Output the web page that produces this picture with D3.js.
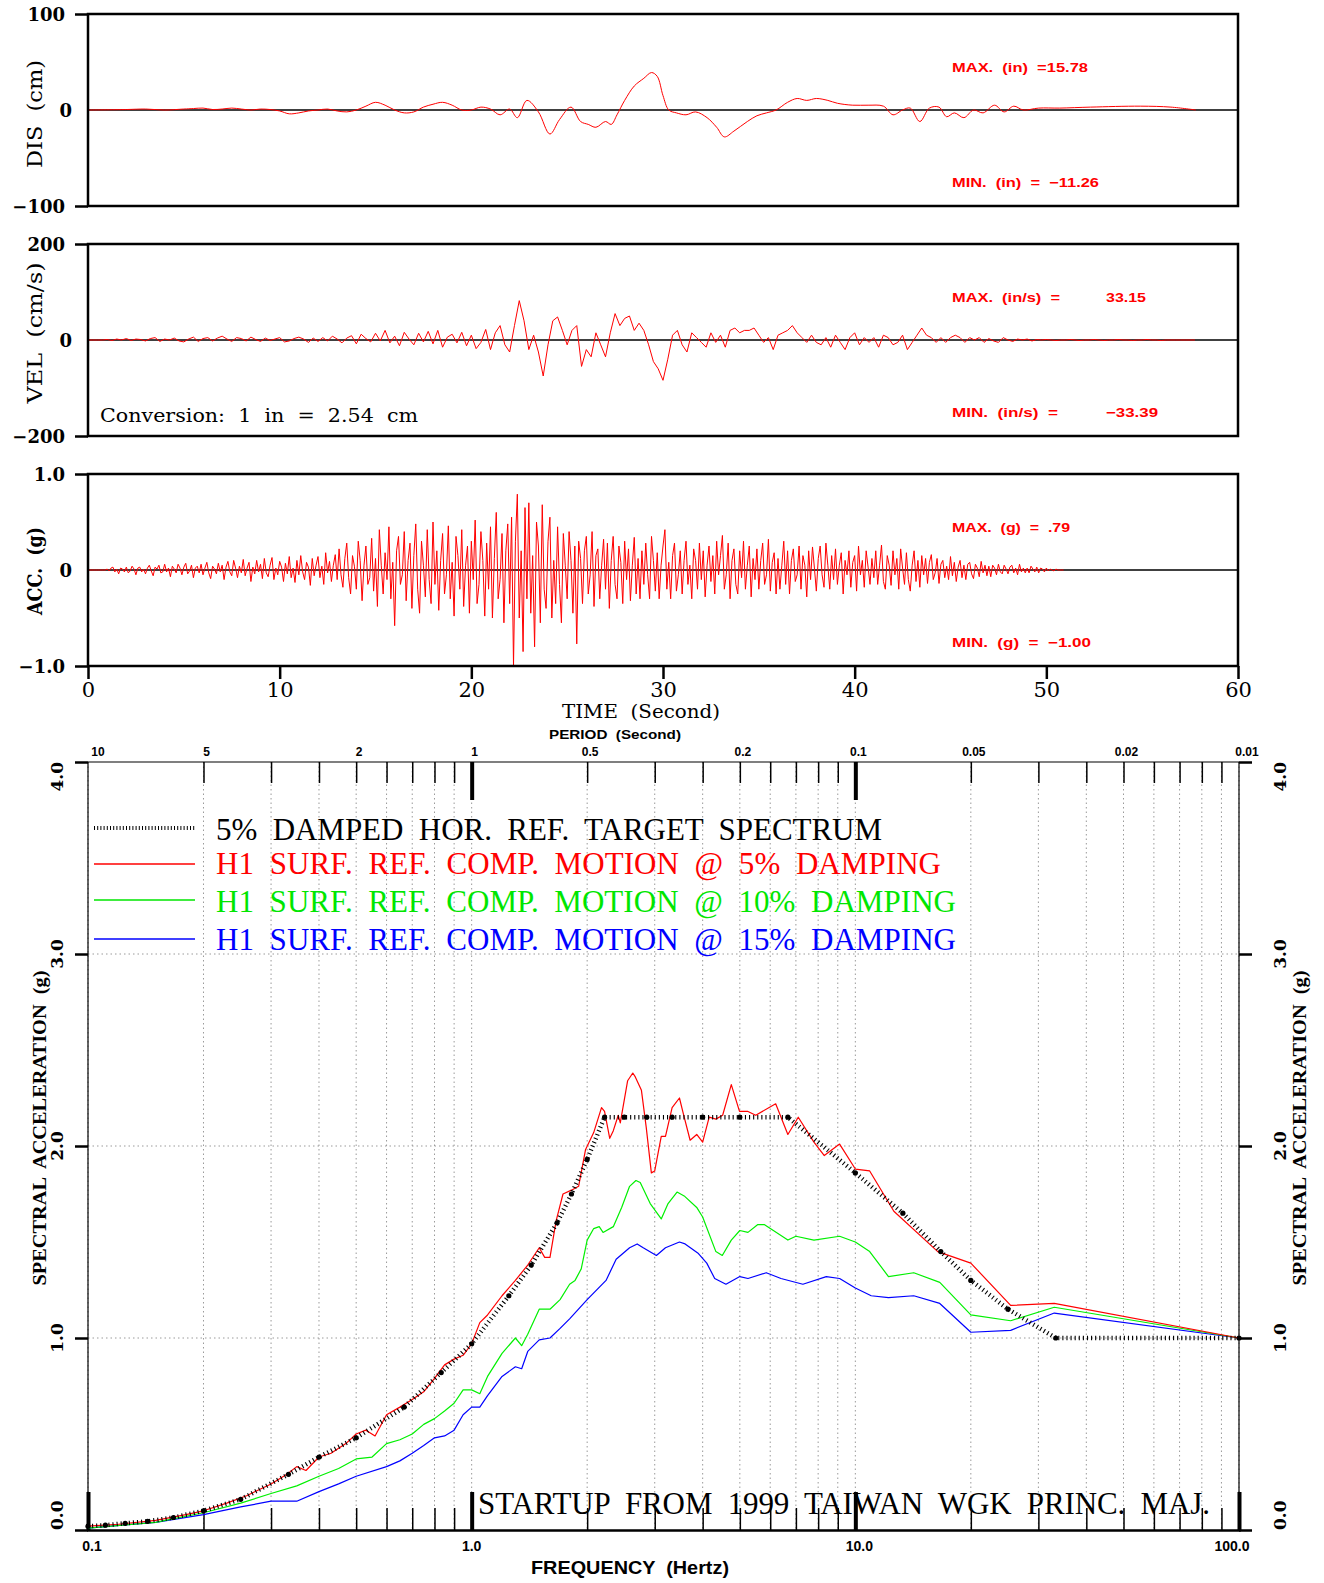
<!DOCTYPE html>
<html><head><meta charset="utf-8">
<script src="https://cdn.jsdelivr.net/npm/d3@7"></script>
<style>body{margin:0;background:#fff}svg{display:block}text{white-space:pre}</style>
</head><body>
<svg id="c" width="1324" height="1583"></svg>
<script>
// ================= DATA =================
const timeTicks=[0,10,20,30,40,50,60];
// displacement (cm): time (s) / value
const dispT=[0,2,3,4,5,5.5,6,6.5,7,7.5,8,8.5,9,9.5,10,10.5,11,11.5,12,12.5,13,13.5,14,14.5,15,15.5,16,16.5,17,17.5,18,18.5,19,19.5,20,20.5,21,21.5,22,22.4,22.9,23.5,24.1,24.6,25.2,25.7,26.1,26.5,27,27.3,27.6,28,28.5,29,29.4,29.7,30,30.3,30.7,31.2,31.7,32.3,32.8,33.2,33.7,34.4,34.9,35.4,35.9,36.5,37,37.5,38,38.6,39.1,39.9,40.7,41.5,42,42.5,42.9,43.4,43.9,44.4,44.8,45.2,45.7,46.2,46.7,47.3,47.8,48.3,48.8,49.6,50.7,52.3,54.9,56.5,57.8];
const dispV=[0,0.5,1,0,1,1.5,2,0.5,1,2,1,0,1,0.5,-1,-4,-3,-1,0,1,-1,-2,0,4,8,5,0,-3,-2,3,6,8,5,0,0,3,1,-5,1,-8,10,-2,-25,-10,3,-12,-15,-18,-12,-15,-5,10,25,33,39,35,15,0,-3,-5,-2,-8,-18,-28,-22,-12,-6,-3,0,8,12,10,12,10,7,5,5,4,-5,0,2,-12,2,3,-7,-3,-8,0,-3,5,-2,4,0,2,2,3,4,3,0];
// velocity (cm/s), sampled every velStep seconds
const velStep=0.25;
const velV=[
0,0,0,0, 1,-1,2,0, 3,-1,2,1, -2,3,5,-3, 2,0,4,-2, -4,2,6,-3, 3,5,-2,4, 8,2,-3,5, 3,-2,6,1, -3,4,-1,2,
5,-4,-2,3, 6,2,-5,4, -3,5,-2,8, 2,-6,4,9, -8,12,3,-4, 14,-2,20,-6, 8,-12,16,2, -10,14,-4,18, -8,20,-15,6, 12,-6,16,-12,
10,-18,-5,22, -20,15,30,-10, -25,30,82,40, -20,10,-25,-75, -10,40,48,20, -10,20,30,-55, -20,-35,15,-10, -35,15,55,30, 45,50,20,35, 20,-10,-45,-60,
-84,-40,10,20, -10,-25,15,5, -5,-15,15,-5, 10,-15,20,25, 15,20,20,25, 10,-5,5,-20, 10,15,20,30, 15,5,-5,10, -5,-10,5,-15, 10,-5,-20,5,
15,-10,5,-5, 5,-15,10,5, -10,-5,10,-20, -5,10,25,10, 5,-5,5,-5, 5,10,5,-5, 5,0,5,-5, 3,-2,-5,5, 0,-3,2,0, 2,-2,1,0,
1,0,-1,0, 0,1,0,-1, 0,0,1,0, -1,0,0,1, 0,0,-1,0, 0,1,0,0, -1,0,0,0, 0,0,0,0];
// acceleration (g), sampled every accStep seconds
const accStep=0.1;
const accV=[
0,0,0,0,0,0,0,0,0,0,
0.01,-0.01,0.02,0.03,-0.02,0.01,-0.04,0.02,0.01,-0.02,
0.03,-0.03,-0.01,0.04,0.01,-0.05,0.02,0.03,-0.02,0.01,
-0.04,0.02,0.05,-0.01,-0.06,0.03,0.01,0.05,-0.03,-0.02,
0.06,-0.02,0.02,-0.07,0.04,0.01,-0.03,0.06,0.02,-0.05,
0.03,0.07,-0.04,-0.01,0.05,-0.08,0.02,0.04,-0.03,0.06,
-0.05,0.02,0.08,-0.03,-0.09,0.04,0.01,-0.04,0.07,-0.02,
0.05,-0.1,0.03,0.09,-0.02,-0.06,0.1,0.02,-0.08,0.04,
-0.03,0.11,-0.06,0.02,0.08,-0.12,0.03,-0.04,0.1,-0.02,
0.06,-0.09,0.12,-0.03,-0.07,0.05,0.13,-0.1,0.02,-0.05,
0.09,0.03,-0.12,0.07,-0.04,0.14,-0.08,0.02,-0.13,0.1,
-0.05,0.15,-0.02,-0.1,0.08,0.03,-0.16,0.12,-0.06,0.05,
0.14,-0.08,0.04,-0.15,0.18,-0.03,0.09,-0.12,0.05,0.16,
-0.1,0.22,-0.05,-0.18,0.12,0.28,-0.08,-0.25,0.15,0.04,
-0.2,0.3,0.1,-0.32,0.05,0.25,-0.15,-0.08,0.33,-0.22,
0.12,-0.38,0.42,0.05,-0.25,0.18,-0.1,0.45,-0.3,0.08,
-0.58,0.2,0.35,-0.15,-0.05,0.4,-0.32,0.1,0.28,-0.4,
0.15,0.48,-0.2,-0.45,0.3,0.05,-0.28,0.42,-0.1,-0.35,
0.5,-0.15,0.2,-0.42,0.1,0.38,-0.25,-0.05,0.46,-0.3,
0.08,-0.48,0.35,0.15,-0.2,0.42,-0.38,0.05,0.25,-0.45,
0.3,-0.1,0.52,-0.35,-0.15,0.4,0.1,-0.48,0.28,-0.2,
0.45,-0.5,0.12,0.6,-0.3,-0.1,0.38,-0.55,0.2,0.48,
-0.35,0.55,-1.0,0.3,0.79,-0.5,0.2,-0.85,0.65,-0.3,
0.7,-0.45,0.15,-0.8,0.5,0.25,-0.55,0.68,-0.2,-0.4,
0.3,0.55,-0.5,0.1,-0.35,0.45,-0.15,-0.55,0.38,0.05,
-0.3,0.4,0.1,-0.45,0.25,-0.77,0.3,0.12,-0.35,0.2,
0.35,-0.25,-0.05,0.4,-0.38,0.15,0.22,-0.3,0.05,0.32,
-0.2,0.28,-0.4,0.1,0.35,-0.15,-0.3,0.25,0.08,-0.35,
0.3,-0.1,0.22,-0.32,0.05,0.34,-0.25,0.12,-0.3,0.2,
-0.15,0.28,-0.05,-0.3,0.35,0.1,-0.22,0.18,-0.3,0.05,
0.25,0.42,-0.2,0.08,-0.3,0.15,0.28,-0.22,-0.05,0.2,
-0.25,0.1,0.3,-0.15,0.05,-0.3,0.22,0.1,-0.2,0.28,
-0.1,0.2,-0.28,0.05,0.25,-0.12,0.15,-0.25,0.3,-0.05,
0.15,0.36,-0.2,-0.05,0.28,-0.3,0.1,0.22,-0.15,-0.25,
0.2,-0.08,0.3,-0.2,0.05,0.25,-0.28,0.12,-0.1,0.22,
-0.2,0.1,0.28,-0.15,-0.05,0.32,-0.22,0.08,0.18,-0.25,
0.12,-0.2,0.05,0.3,-0.15,0.2,-0.25,0.1,0.22,-0.12,
-0.05,0.25,-0.2,0.15,0.05,-0.28,0.2,-0.1,0.24,0.02,
-0.22,0.12,0.25,-0.05,-0.18,0.28,0.05,-0.2,0.15,-0.1,
0.22,-0.15,0.05,0.18,-0.25,0.1,-0.05,0.2,-0.18,0.08,
0.15,-0.22,0.25,-0.05,0.1,-0.18,0.2,0.03,-0.15,0.12,
-0.08,0.2,-0.15,0.05,0.26,-0.12,-0.2,0.15,0.05,-0.16,
0.2,-0.05,0.12,-0.2,0.22,0.02,-0.15,0.18,-0.1,-0.22,
0.05,0.2,-0.12,0.1,-0.18,0.15,-0.05,0.12,-0.14,0.08,
0.16,-0.1,-0.03,0.12,-0.14,0.06,0.1,-0.08,0.04,-0.1,
0.14,-0.06,0.08,-0.12,0.03,0.1,-0.08,0.05,-0.1,0.06,
0.08,-0.04,-0.09,0.06,0.02,-0.07,0.09,-0.03,0.05,-0.06,
0.04,-0.07,0.05,0.02,-0.05,0.06,-0.02,-0.04,0.05,0.01,
-0.04,0.03,0.05,-0.03,0.02,-0.05,0.06,-0.02,0.02,-0.03,
0.02,-0.03,0.04,0.01,-0.02,0.03,-0.03,0.02,0.01,-0.02,
0.02,-0.01,0.01,0,-0.01,0.01,0,0,0,0];

const panelTitles=["DIS  (cm)","VEL  (cm/s)","ACC.  (g)"];
const panelDomains=[[-100,100],[-200,200],[-1,1]];
const panelTickLabels=[["\u2212100","0","100"],["\u2212200","0","200"],["\u22121.0","0","1.0"]];
const maxTexts=["MAX.  (in)  =15.78","MAX.  (in/s)  =","MAX.  (g)  =  .79"];
const minTexts=["MIN.  (in)  =  \u221211.26","MIN.  (in/s)  =","MIN.  (g)  =  \u22121.00"];
const velMaxVal="33.15", velMinVal="\u221233.39";
const conversionText="Conversion:  1  in  =  2.54  cm";

// Response spectrum
const freqTicks=[0.1,0.2,0.3,0.4,0.5,0.6,0.7,0.8,0.9,1,2,3,4,5,6,7,8,9,10,20,30,40,50,60,70,80,90,100];
const freqMajor=[0.1,1,10,100];
const freqLabels=["0.1","1.0","10.0","100.0"];
const periodVals=[10,5,2,1,0.5,0.2,0.1,0.05,0.02,0.01];
const periodLabels=["10","5","2","1","0.5","0.2","0.1","0.05","0.02","0.01"];
const saTicks=[0,1,2,3,4];
const saLabels=["0.0","1.0","2.0","3.0","4.0"];

const targetF=[0.1,0.111,0.125,0.143,0.167,0.2,0.25,0.333,0.4,0.5,0.667,0.833,1.0,1.25,1.43,1.67,1.82,2.0,2.22,2.5,2.86,3.33,4.0,5.0,6.67,10,13.3,16.7,20,25,33.3,100];
const targetG=[0.02,0.025,0.035,0.045,0.065,0.1,0.16,0.29,0.38,0.48,0.64,0.82,0.97,1.22,1.38,1.6,1.75,1.93,2.15,2.15,2.15,2.15,2.15,2.15,2.15,1.86,1.65,1.45,1.3,1.15,1.0,1.0];

const redF=[0.1,0.12,0.15,0.18,0.2,0.23,0.26,0.3,0.33,0.35,0.37,0.4,0.43,0.47,0.5,0.53,0.56,0.6,0.65,0.7,0.75,0.8,0.85,0.9,0.95,1.0,1.05,1.1,1.2,1.3,1.4,1.5,1.55,1.6,1.66,1.73,1.82,1.9,1.98,2.08,2.18,2.22,2.29,2.34,2.41,2.44,2.55,2.63,2.67,2.77,2.85,2.94,3.0,3.12,3.2,3.33,3.48,3.56,3.71,3.86,4.0,4.16,4.33,4.51,4.75,4.99,5.25,5.5,6.2,6.67,7.1,7.8,8.3,9.1,10,10.9,12.6,16.4,20,25.4,33,100];
const redG=[0.02,0.03,0.05,0.08,0.1,0.14,0.18,0.24,0.29,0.33,0.31,0.38,0.4,0.45,0.5,0.52,0.49,0.6,0.64,0.68,0.72,0.79,0.86,0.89,0.91,0.97,1.08,1.12,1.22,1.3,1.38,1.47,1.42,1.42,1.61,1.75,1.77,1.79,1.98,2.07,2.2,2.18,2.04,2.08,2.16,2.12,2.34,2.38,2.36,2.29,2.10,1.86,1.87,2.05,2.05,2.2,2.25,2.17,2.03,2.06,2.02,2.15,2.14,2.16,2.32,2.18,2.18,2.16,2.22,2.06,2.15,2.02,1.95,2.01,1.88,1.87,1.66,1.45,1.39,1.17,1.18,1.0];

const greenF=[0.1,0.15,0.2,0.25,0.3,0.35,0.4,0.45,0.5,0.55,0.6,0.65,0.7,0.75,0.8,0.85,0.9,0.95,1.0,1.05,1.1,1.2,1.3,1.35,1.4,1.5,1.6,1.7,1.8,1.86,1.93,2.0,2.08,2.15,2.2,2.34,2.46,2.58,2.68,2.75,2.92,3.12,3.25,3.43,3.58,3.86,4.0,4.33,4.5,4.75,5.0,5.25,5.56,5.8,6.67,7.0,7.8,9.1,10,10.9,12.2,14.2,16.6,20,25.4,33,100];
const greenG=[0.01,0.04,0.09,0.14,0.19,0.23,0.28,0.32,0.37,0.38,0.45,0.47,0.5,0.55,0.58,0.62,0.66,0.73,0.73,0.71,0.8,0.92,1.0,0.96,1.02,1.15,1.15,1.2,1.28,1.30,1.36,1.51,1.57,1.58,1.55,1.58,1.68,1.79,1.82,1.81,1.70,1.62,1.70,1.76,1.74,1.68,1.63,1.45,1.43,1.51,1.56,1.55,1.59,1.59,1.51,1.53,1.51,1.53,1.50,1.45,1.32,1.34,1.29,1.12,1.09,1.16,1.0];

const blueF=[0.1,0.15,0.2,0.25,0.3,0.35,0.4,0.45,0.5,0.6,0.65,0.7,0.75,0.8,0.85,0.9,0.95,1.0,1.05,1.1,1.2,1.3,1.35,1.4,1.5,1.6,1.7,1.8,2.0,2.24,2.38,2.58,2.7,2.8,3.03,3.2,3.48,3.6,3.9,4.1,4.3,4.6,5.0,5.25,5.86,6.4,7.3,8.4,9.1,10,11,12.2,14.2,16.6,20,25.4,33,100];
const blueG=[0.01,0.04,0.08,0.12,0.15,0.15,0.2,0.24,0.28,0.33,0.36,0.4,0.44,0.48,0.49,0.52,0.6,0.64,0.64,0.7,0.8,0.85,0.84,0.93,0.99,1.0,1.05,1.1,1.2,1.30,1.41,1.47,1.49,1.47,1.43,1.47,1.50,1.49,1.44,1.39,1.31,1.28,1.32,1.31,1.34,1.31,1.28,1.32,1.31,1.26,1.22,1.21,1.22,1.18,1.03,1.04,1.13,1.0];

const legendTexts=["5%  DAMPED  HOR.  REF.  TARGET  SPECTRUM","H1  SURF.  REF.  COMP.  MOTION  @  5%  DAMPING","H1  SURF.  REF.  COMP.  MOTION  @  10%  DAMPING","H1  SURF.  REF.  COMP.  MOTION  @  15%  DAMPING"];
const legendColors=["#000","#ff0000","#00e600","#0000ff"];
const footText="STARTUP  FROM  1999  TAIWAN  WGK  PRINC.  MAJ.";

// ================= DRAWING =================
const svg=d3.select('#c');
svg.append('rect').attr('width',1324).attr('height',1583).attr('fill','#fff');

function T(p,x,y,s,o={}){
  const t=p.append('text').attr('x',x).attr('y',y).text(s)
    .attr('font-family',o.ff||'DejaVu Serif').attr('font-size',o.fs||16)
    .attr('font-weight',o.fw||'normal').attr('fill',o.fill||'#000')
    .attr('text-anchor',o.anchor||'start');
  if(o.len){t.attr('textLength',o.len).attr('lengthAdjust',o.adj||'spacingAndGlyphs');}
  if(o.rot!=null) t.attr('transform',`rotate(${o.rot},${x},${y})`);
  return t;
}

const X0=88, X1=1238;
const xT=d3.scaleLinear().domain([0,60]).range([X0,X1]);
const panelTop=[14,244,474], PH=192;
const series=[
  dispT.map((t,i)=>[t,dispV[i]]),
  velV.map((v,i)=>[i*velStep,v]),
  accV.map((v,i)=>[i*accStep,v])
];
const titleLen=[108,141,88], titleCY=[114,333,571];
const maxY=[72,302,532], minY=[187,417,647];
const maxLen=[136,108,118], minLen=[147,106,139];

panelTop.forEach((top,k)=>{
  const y=d3.scaleLinear().domain(panelDomains[k]).range([top+PH,top]);
  const g=svg.append('g');
  g.append('line').attr('x1',X0).attr('x2',X1).attr('y1',y(0)).attr('y2',y(0))
    .attr('stroke','#000').attr('stroke-width',1.6);
  const line=d3.line().x(d=>xT(d[0])).y(d=>y(d[1]));
  if(k===0) line.curve(d3.curveCatmullRom);
  g.append('path').datum(series[k]).attr('d',line).attr('fill','none')
    .attr('stroke','#ff0000').attr('stroke-width',1).attr('stroke-linejoin','round');
  g.append('rect').attr('x',X0).attr('y',top).attr('width',X1-X0).attr('height',PH)
    .attr('fill','none').attr('stroke','#000').attr('stroke-width',2.5);
  const dom=panelDomains[k];
  const ax=g.append('g').attr('transform',`translate(${X0},0)`)
    .call(d3.axisLeft(y).tickValues([dom[0],0,dom[1]]).tickSize(13).tickPadding(10)
      .tickFormat((d,i)=>panelTickLabels[k][i]));
  ax.select('.domain').remove();
  ax.selectAll('.tick line').attr('stroke','#000').attr('stroke-width',2.5)
    .attr('display',d=>d===0?'none':null);
  ax.selectAll('.tick text').attr('font-family','DejaVu Serif').attr('font-size',18)
    .attr('font-weight','bold').attr('fill','#000').attr('dy','0.36em');
  ax.selectAll('.tick text').filter(d=>d===0).attr('x',-16);
  T(g,42,titleCY[k],panelTitles[k],{fs:20,fw:k===2?'bold':'normal',anchor:'middle',rot:-90,len:titleLen[k]});
  T(g,952,maxY[k],maxTexts[k],{ff:'Liberation Sans',fs:13,fw:'bold',fill:'#ff0000',len:maxLen[k]});
  T(g,952,minY[k],minTexts[k],{ff:'Liberation Sans',fs:13,fw:'bold',fill:'#ff0000',len:minLen[k]});
  if(k===1){
    T(g,1106,maxY[k],velMaxVal,{ff:'Liberation Sans',fs:13,fw:'bold',fill:'#ff0000',len:40});
    T(g,1106,minY[k],velMinVal,{ff:'Liberation Sans',fs:13,fw:'bold',fill:'#ff0000',len:52});
    T(g,100,422,conversionText,{fs:19,len:318});
  }
  if(k===2){
    const xa=g.append('g').attr('transform',`translate(0,${top+PH})`)
      .call(d3.axisBottom(xT).tickValues(timeTicks).tickSize(13).tickPadding(3));
    xa.select('.domain').remove();
    xa.selectAll('.tick line').attr('stroke','#000').attr('stroke-width',2.5);
    xa.selectAll('.tick text').attr('font-family','DejaVu Serif').attr('font-size',21).attr('fill','#000');
  }
});
T(svg,641,718,"TIME  (Second)",{fs:19,anchor:'middle',len:158});

// ---------- Response spectrum ----------
const SX0=88, SX1=1239, SY0=1530, SY1=762;
const xF=d3.scaleLog().domain([0.1,100]).range([SX0,SX1]);
const yS=d3.scaleLinear().domain([0,4]).range([SY0,SY1]);
const sp=svg.append('g');

sp.selectAll('.vg').data(freqTicks).enter().append('line')
  .attr('x1',d=>xF(d)).attr('x2',d=>xF(d)).attr('y1',SY1).attr('y2',SY0)
  .attr('stroke','#9a9a9a').attr('stroke-width',1).attr('stroke-dasharray','1.5,3');
sp.selectAll('.hg').data([1,2,3]).enter().append('line')
  .attr('x1',SX0).attr('x2',SX1).attr('y1',d=>yS(d)).attr('y2',d=>yS(d))
  .attr('stroke','#9a9a9a').attr('stroke-width',1).attr('stroke-dasharray','1.5,3');

sp.append('line').attr('x1',SX0).attr('x2',SX1).attr('y1',SY1).attr('y2',SY1).attr('stroke','#000').attr('stroke-width',1.2);
sp.append('line').attr('x1',SX0).attr('x2',SX0).attr('y1',SY1).attr('y2',SY0).attr('stroke','#000').attr('stroke-width',1.2);
sp.append('line').attr('x1',SX1).attr('x2',SX1).attr('y1',SY1).attr('y2',SY0).attr('stroke','#000').attr('stroke-width',1.2);

const bAx=sp.append('g').attr('transform',`translate(0,${SY0})`)
  .call(d3.axisBottom(xF).tickValues(freqTicks).tickSize(-22).tickFormat(''));
bAx.select('.domain').attr('stroke','#000').attr('stroke-width',2.5);
bAx.selectAll('.tick line').attr('stroke','#000').attr('stroke-width',1.5);
const bMaj=sp.append('g').attr('transform',`translate(0,${SY0})`)
  .call(d3.axisBottom(xF).tickValues(freqMajor).tickSize(-38).tickFormat(''));
bMaj.select('.domain').remove();
bMaj.selectAll('.tick line').attr('stroke','#000').attr('stroke-width',4);
const fLabOff=[4,0,4,-7];
freqMajor.forEach((f,i)=>T(sp,xF(f)+fLabOff[i],1551,freqLabels[i],{ff:'Liberation Sans',fs:14,fw:'bold',anchor:'middle'}));
T(sp,630,1574,"FREQUENCY  (Hertz)",{ff:'Liberation Sans',fs:18,fw:'bold',anchor:'middle',len:198});

const tAx=sp.append('g').attr('transform',`translate(0,${SY1})`)
  .call(d3.axisTop(xF).tickValues(freqTicks.filter(f=>f>0.1&&f<100)).tickSize(-21).tickFormat(''));
tAx.select('.domain').remove();
tAx.selectAll('.tick line').attr('stroke','#000').attr('stroke-width',1.5);
const tMaj=sp.append('g').attr('transform',`translate(0,${SY1})`)
  .call(d3.axisTop(xF).tickValues([1,10]).tickSize(-38).tickFormat(''));
tMaj.select('.domain').remove();
tMaj.selectAll('.tick line').attr('stroke','#000').attr('stroke-width',4);
periodVals.forEach((p,i)=>{
  const off=i===0?10:(i===periodVals.length-1?8:3);
  T(sp,xF(1/p)+off,756,periodLabels[i],{ff:'Liberation Sans',fs:12,fw:'bold',anchor:'middle'});
});
T(sp,615,739,"PERIOD  (Second)",{ff:'Liberation Sans',fs:13,fw:'bold',anchor:'middle',len:132});

const lAx=sp.append('g').attr('transform',`translate(${SX0},0)`)
  .call(d3.axisLeft(yS).tickValues(saTicks).tickSize(13).tickFormat(''));
lAx.select('.domain').remove();
lAx.selectAll('.tick line').attr('stroke','#000').attr('stroke-width',2.5);
const rAx=sp.append('g').attr('transform',`translate(${SX1},0)`)
  .call(d3.axisRight(yS).tickValues(saTicks).tickSize(13).tickFormat(''));
rAx.select('.domain').remove();
rAx.selectAll('.tick line').attr('stroke','#000').attr('stroke-width',2.5);
saTicks.forEach((v,i)=>{
  const anc=v===0?'start':(v===4?'end':'middle');
  T(sp,63,yS(v),saLabels[i],{fs:17,fw:'bold',anchor:anc,rot:-90});
  T(sp,1286,yS(v),saLabels[i],{fs:17,fw:'bold',anchor:anc,rot:-90});
});
T(sp,46,1128,"SPECTRAL  ACCELERATION  (g)",{ff:'Liberation Serif',fs:19,fw:'bold',anchor:'middle',rot:-90,len:315});
T(sp,1306,1128,"SPECTRAL  ACCELERATION  (g)",{ff:'Liberation Serif',fs:19,fw:'bold',anchor:'middle',rot:-90,len:315});

const sLine=d3.line().x(d=>xF(d[0])).y(d=>yS(d[1]));
const curves=[[blueF,blueG,'#0000ff'],[greenF,greenG,'#00f000'],[redF,redG,'#ff0000']];
curves.forEach(([F,G,c])=>{
  sp.append('path').datum(F.map((f,i)=>[f,G[i]])).attr('d',sLine)
    .attr('fill','none').attr('stroke',c).attr('stroke-width',1.2).attr('stroke-linejoin','round');
});
const tgt=targetF.map((f,i)=>[f,targetG[i]]);
sp.append('path').datum(tgt).attr('d',sLine).attr('fill','none')
  .attr('stroke','#000').attr('stroke-width',4.5).attr('stroke-dasharray','1.1,3');
sp.selectAll('.dot').data(tgt).enter().append('circle')
  .attr('cx',d=>xF(d[0])).attr('cy',d=>yS(d[1])).attr('r',2.6).attr('fill','#000');

const legY=[828,864,900,939], legBase=[840,874,912,950], legLen=[666,725,740,740];
legendTexts.forEach((s,i)=>{
  const ln=sp.append('line').attr('x1',94).attr('x2',195).attr('y1',legY[i]).attr('y2',legY[i]);
  if(i===0) ln.attr('stroke','#000').attr('stroke-width',4).attr('stroke-dasharray','1,2.2');
  else ln.attr('stroke',legendColors[i]).attr('stroke-width',1.3);
  T(sp,216,legBase[i],s,{ff:'Liberation Serif',fs:31,fill:legendColors[i],len:legLen[i],adj:'spacing'});
});
T(sp,478,1514,footText,{ff:'Liberation Serif',fs:31,len:732,adj:'spacing'});
</script>
</body></html>
